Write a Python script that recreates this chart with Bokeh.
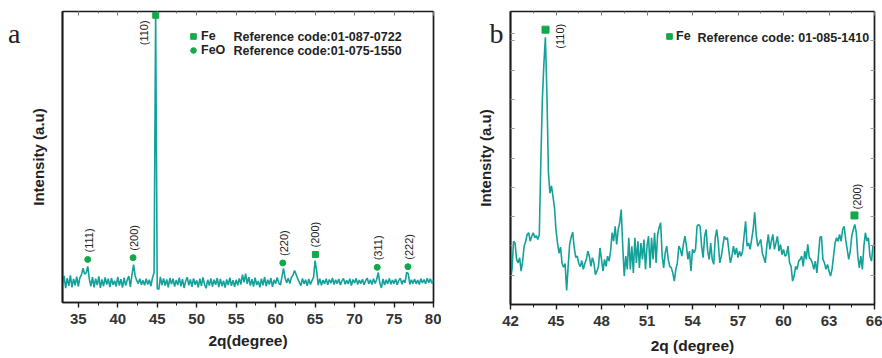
import numpy as np
from bokeh.plotting import figure
from bokeh.models import (Range1d, LinearAxis, FixedTicker,
                          SingleIntervalTicker, Label, Legend, LegendItem)
from bokeh.layouts import row
from bokeh.embed import file_html
from bokeh.resources import INLINE
from bokeh.core.properties import value

# ---------------- data: panel a (2theta 33-80, step 0.2) ----------------
a_two_theta = np.round(np.arange(33.0, 80.0001, 0.2), 1)
a_intensity = [
    6.5, 9.2, 4.9, 8.4, 5.7,    # 33
    9.3, 5.2, 8.1, 5.9, 8.9,    # 34
    5.5, 8.5, 9.5, 11.8, 9.8,   # 35
    10.2, 12.4, 8.0, 5.6, 8.7,  # 36
    5.2, 8.2, 6.0, 9.0, 5.0,    # 37
    7.9, 5.6, 8.6, 6.2, 8.2,    # 38
    5.3, 8.4, 6.1, 7.5, 5.5,    # 39
    8.8, 5.8, 8.0, 5.1, 8.5,    # 40
    5.8, 7.7, 9.1, 5.4, 9.5,    # 41
    13.0, 9.2, 7.6, 6.5, 8.2,   # 42
    6.1, 7.6, 5.9, 8.2, 6.2,    # 43
    7.8, 5.6, 8.5, 10.2, 100.0, # 44
    4.8, 4.5, 8.8, 6.0, 8.3,    # 45
    5.8, 7.9, 5.2, 8.4, 6.3,    # 46
    8.2, 5.5, 7.7, 6.0, 8.5,    # 47
    5.6, 8.0, 5.0, 7.3, 8.7,    # 48
    5.9, 7.9, 5.4, 8.3, 6.1,    # 49
    7.6, 5.2, 8.2, 5.7, 8.6,    # 50
    6.2, 4.9, 7.8, 5.8, 8.3,    # 51
    5.5, 7.8, 6.1, 8.4, 5.3,    # 52
    8.1, 5.6, 7.5, 5.1, 7.9,    # 53
    6.0, 8.5, 5.7, 7.7, 5.4,    # 54
    7.8, 5.9, 8.3, 6.2, 9.6,    # 55
    6.9, 9.9, 6.4, 8.7, 5.8,    # 56
    8.0, 5.5, 8.5, 6.0, 7.4,    # 57
    5.2, 8.2, 5.9, 8.8, 5.6,    # 58
    7.8, 6.2, 8.4, 5.4, 7.8,    # 59
    6.5, 8.6, 6.7, 6.0, 8.8,    # 60
    11.7, 8.4, 6.8, 8.3, 6.5,   # 61
    8.6, 9.4, 11.0, 9.6, 8.1,   # 62
    6.9, 5.8, 8.3, 6.4, 7.8,    # 63
    5.7, 8.1, 6.2, 7.5, 8.6,    # 64
    14.4, 10.8, 6.0, 8.2, 5.9,  # 65
    7.7, 6.4, 8.2, 6.1, 7.9,    # 66
    6.6, 8.4, 6.2, 7.8, 6.5,    # 67
    8.1, 6.0, 7.5, 8.3, 6.3,    # 68
    7.6, 6.4, 8.2, 5.8, 7.9,    # 69
    6.7, 8.3, 6.2, 7.7, 6.5,    # 70
    8.0, 6.1, 7.5, 8.4, 6.4,    # 71
    7.8, 6.2, 8.2, 6.5, 7.9,    # 72
    10.3, 6.7, 5.0, 8.1, 6.0,   # 73
    7.8, 6.4, 8.3, 6.3, 7.7,    # 74
    6.5, 8.1, 6.1, 7.6, 8.3,    # 75
    6.3, 7.7, 6.8, 10.4, 9.9,   # 76
    6.2, 7.8, 6.5, 8.1, 6.4,    # 77
    7.7, 6.2, 8.2, 6.7, 7.9,    # 78
    6.4, 8.3, 6.8, 8.2, 6.6,    # 79
    7.5,                        # 80
]
a_fe_pos = [44.81, 65.04]
a_fe_int = [98.7, 16.5]
a_fe_hkl = ["(110)", "(200)"]
a_feo_pos = [36.19, 41.94, 60.91, 72.87, 76.76]
a_feo_int = [14.8, 15.4, 13.6, 12.1, 12.3]
a_feo_hkl = ["(111)", "(200)", "(220)", "(311)", "(222)"]

# ---------------- data: panel b (2theta 42-66, step 0.1) ----------------
b_two_theta = np.round(np.arange(42.0, 66.0001, 0.1), 1)
b_intensity = [
    8.5, 12.0, 21.6, 21.0, 15.4, 14.2, 16.0, 11.4, 14.8, 20.0,   # 42
    21.6, 23.9, 24.5, 21.6, 23.3, 24.5, 22.8, 23.5, 22.2, 23.9,  # 43
    49.0, 70.0, 82.0, 91.2, 72.0, 45.0, 38.0, 40.5, 37.0, 33.0,  # 44
    25.3, 21.0, 17.5, 19.6, 14.0, 12.7, 14.0, 4.8, 13.0, 20.5,   # 45
    23.0, 24.7, 19.6, 16.1, 16.5, 14.0, 12.9, 15.0, 12.0, 14.0,  # 46
    15.4, 18.2, 16.5, 13.0, 16.0, 14.2, 10.2, 11.4, 13.0, 19.3,  # 47
    15.4, 11.4, 15.4, 13.0, 16.5, 14.8, 18.2, 24.5, 21.6, 26.7,  # 48
    20.5, 25.6, 27.9, 32.4, 19.9, 9.7, 16.5, 12.0, 22.8, 12.0,   # 49
    19.9, 10.8, 22.8, 14.2, 21.6, 12.5, 21.0, 15.4, 22.2, 12.0,  # 50
    19.9, 23.3, 12.5, 22.8, 15.4, 24.5, 14.2, 23.9, 26.2, 27.9,  # 51
    16.5, 12.5, 17.6, 19.9, 15.4, 13.0, 12.5, 10.8, 8.0, 12.0,   # 52
    14.2, 19.9, 18.8, 16.5, 20.5, 23.3, 19.9, 15.4, 18.2, 11.4,  # 53
    18.8, 17.6, 18.8, 26.7, 27.3, 26.7, 19.9, 16.0, 23.3, 25.6,  # 54
    18.2, 15.4, 21.0, 15.4, 13.7, 22.8, 25.6, 21.0, 14.2, 16.5,  # 55
    19.9, 23.3, 22.2, 22.8, 18.2, 14.2, 16.5, 19.9, 17.0, 19.3,  # 56
    16.0, 18.2, 16.5, 18.2, 23.3, 28.4, 19.9, 21.0, 18.8, 22.2,  # 57
    25.6, 31.5, 23.9, 19.9, 21.0, 22.2, 17.6, 16.0, 14.2, 19.9,  # 58
    23.9, 18.8, 21.6, 23.9, 18.8, 21.0, 23.3, 18.2, 20.5, 17.0,  # 59
    18.8, 16.5, 17.0, 19.9, 14.2, 13.0, 8.0, 9.7, 13.0, 12.0,    # 60
    14.8, 15.4, 16.5, 13.0, 18.2, 15.4, 20.5, 16.0, 15.4, 14.2,  # 61
    12.0, 14.8, 10.8, 16.5, 22.8, 23.3, 15.4, 14.2, 12.0, 13.7,  # 62
    11.4, 9.7, 12.0, 16.5, 21.0, 22.8, 21.6, 23.9, 21.6, 25.6,   # 63
    26.7, 22.2, 18.8, 15.4, 18.2, 23.3, 25.6, 27.3, 24.5, 16.5,  # 64
    12.5, 16.5, 12.0, 19.9, 24.5, 21.6, 22.8, 16.5, 14.8, 19.9,  # 65
    20.5,                                                        # 66
]
b_fe_pos = [44.31, 64.68]
b_fe_int = [93.8, 30.4]
b_fe_hkl = ["(110)", "(200)"]

a_x_ticks_interval = 5
b_x_ticks_interval = 3
b_y_ticks = [10, 20, 30, 40, 50, 60, 70, 80, 90]
panel_letter_level = 92.6

# ---------------- styles ----------------
LINE = "#13a19a"
GREEN = "#14a84b"
INK = "#222222"
FONT = "Liberation Sans"


def make_fig(xr, bl, br, bt, fw, fh):
    p = figure(frame_width=fw, frame_height=fh, x_range=Range1d(*xr), y_range=Range1d(0, 100),
               output_backend="svg", toolbar_location=None,
               min_border_left=bl, min_border_right=br,
               min_border_top=bt, min_border_bottom=0)
    p.grid.visible = False
    p.outline_line_color = "#1a1a1a"
    p.outline_line_width = 1.7
    p.background_fill_color = "white"
    p.border_fill_color = "white"
    return p


def style_x(p, interval, label, lab_standoff, title_standoff):
    ax = p.xaxis[0]
    ax.ticker = SingleIntervalTicker(interval=interval, num_minor_ticks=2)
    ax.axis_line_color = "#1a1a1a"
    ax.axis_line_width = 1.7
    ax.major_tick_in = 0
    ax.major_tick_out = 5
    ax.minor_tick_in = 0
    ax.minor_tick_out = 3
    ax.major_tick_line_color = "#1a1a1a"
    ax.minor_tick_line_color = "#1a1a1a"
    ax.major_tick_line_width = 1.4
    ax.major_label_text_font = FONT
    ax.major_label_text_font_style = "bold"
    ax.major_label_text_font_size = "15px"
    ax.major_label_text_color = "#333333"
    ax.major_label_standoff = lab_standoff
    ax.axis_label = label
    ax.axis_label_text_font = FONT
    ax.axis_label_text_font_style = "bold"
    ax.axis_label_text_font_size = "15.5px"
    ax.axis_label_text_color = INK
    ax.axis_label_standoff = title_standoff
    top = LinearAxis(ticker=SingleIntervalTicker(interval=interval, num_minor_ticks=2),
                     axis_line_color=None, major_tick_in=4, major_tick_out=0,
                     minor_tick_in=2, minor_tick_out=0,
                     major_tick_line_color="#777777", minor_tick_line_color="#777777",
                     major_label_text_font_size="0px", major_label_standoff=0)
    p.add_layout(top, "above")


def style_y(p, letter, letter_standoff, title_standoff, ticks=None):
    ax = p.yaxis[0]
    ax.axis_line_color = "#1a1a1a"
    ax.axis_line_width = 1.7
    ax.major_tick_out = 0
    ax.minor_tick_line_color = None
    tick_list = ([] if ticks is None else list(ticks)) + [panel_letter_level]
    ax.ticker = FixedTicker(ticks=tick_list)
    overrides = {t: "" for t in (ticks or [])}
    overrides[panel_letter_level] = letter
    ax.major_label_overrides = overrides
    ax.major_label_text_font = "Liberation Serif"
    ax.major_label_text_font_size = "28px"
    ax.major_label_text_color = INK
    ax.major_label_standoff = letter_standoff
    if ticks is None:
        ax.major_tick_line_color = None
    else:
        ax.major_tick_in = 4
        ax.major_tick_line_color = "#999999"
        right = LinearAxis(ticker=FixedTicker(ticks=ticks), axis_line_color=None,
                           major_tick_in=4, major_tick_out=0, minor_tick_line_color=None,
                           major_tick_line_color="#999999",
                           major_label_text_font_size="0px", major_label_standoff=0)
        p.add_layout(right, "right")
    ax.axis_label = "Intensity (a.u)"
    ax.axis_label_text_font = FONT
    ax.axis_label_text_font_style = "bold"
    ax.axis_label_text_font_size = "15px"
    ax.axis_label_text_color = INK
    ax.axis_label_standoff = title_standoff


def hkl_text(p, x, y, t, dx, dy):
    p.text(x=[x], y=[y], text=[t], angle=np.pi / 2, x_offset=dx, y_offset=dy,
           text_align="left", text_baseline="middle",
           text_font=value(FONT), text_font_size="11px", text_color=INK)


def screen_label(p, x, y, t):
    p.add_layout(Label(x=x, y=y, x_units="screen", y_units="screen", text=t,
                       text_font=FONT, text_font_style="bold", text_font_size="12.5px",
                       text_color=INK, text_baseline="alphabetic"))


def legend(items, loc, standoff):
    return Legend(items=items, location=loc, orientation="vertical", spacing=0,
                  padding=0, margin=0, glyph_width=14, glyph_height=14, label_height=14,
                  label_standoff=standoff, border_line_color=None, background_fill_alpha=0,
                  label_text_font=FONT, label_text_font_style="bold",
                  label_text_font_size="12.5px", label_text_color=INK)


# ---------------- panel a ----------------
pa = make_fig((33, 80), 62, 8, 11, 371, 291)
style_x(pa, a_x_ticks_interval, "2q(degree)", 6, 5)
style_y(pa, "a", 42, -42)
pa.line(a_two_theta, a_intensity, line_color=LINE, line_width=1.6)
fe_a = pa.scatter(a_fe_pos, a_fe_int, marker="square", size=6, color=GREEN)
feo_a = pa.scatter(a_feo_pos, a_feo_int, marker="circle", size=6, color=GREEN)
hkl_text(pa, a_fe_pos[0], a_fe_int[0], a_fe_hkl[0], -11.5, 30)
hkl_text(pa, a_fe_pos[1], a_fe_int[1], a_fe_hkl[1], 0, -7)
for xpos, ypos, t in zip(a_feo_pos, a_feo_int, a_feo_hkl):
    hkl_text(pa, xpos, ypos, t, 1, -7)
pa.add_layout(legend([LegendItem(label="Fe", renderers=[fe_a]),
                      LegendItem(label="FeO", renderers=[feo_a])], (124, 245), 1))
screen_label(pa, 171, 266, "Reference code:01-087-0722")
screen_label(pa, 171, 252, "Reference code:01-075-1550")

# ---------------- panel b ----------------
pb = make_fig((42, 66), 69, 8, 11, 364, 293)
style_x(pb, b_x_ticks_interval, "2q (degree)", 6, 8)
style_y(pb, "b", 7, -7, b_y_ticks)
pb.line(b_two_theta, b_intensity, line_color=LINE, line_width=1.6)
fe_b = pb.scatter(b_fe_pos, b_fe_int, marker="square", size=7, color=GREEN)
hkl_text(pb, b_fe_pos[0], b_fe_int[0], b_fe_hkl[0], 14, 19)
hkl_text(pb, b_fe_pos[1], b_fe_int[1], b_fe_hkl[1], 3, -6)
pb.add_layout(legend([LegendItem(label="Fe", renderers=[fe_b])], (152, 261), 0))
screen_label(pb, 187, 267, "Reference code: 01-085-1410")

layout = row(pa, pb)
open("out.html", "w").write(file_html(layout, INLINE))
